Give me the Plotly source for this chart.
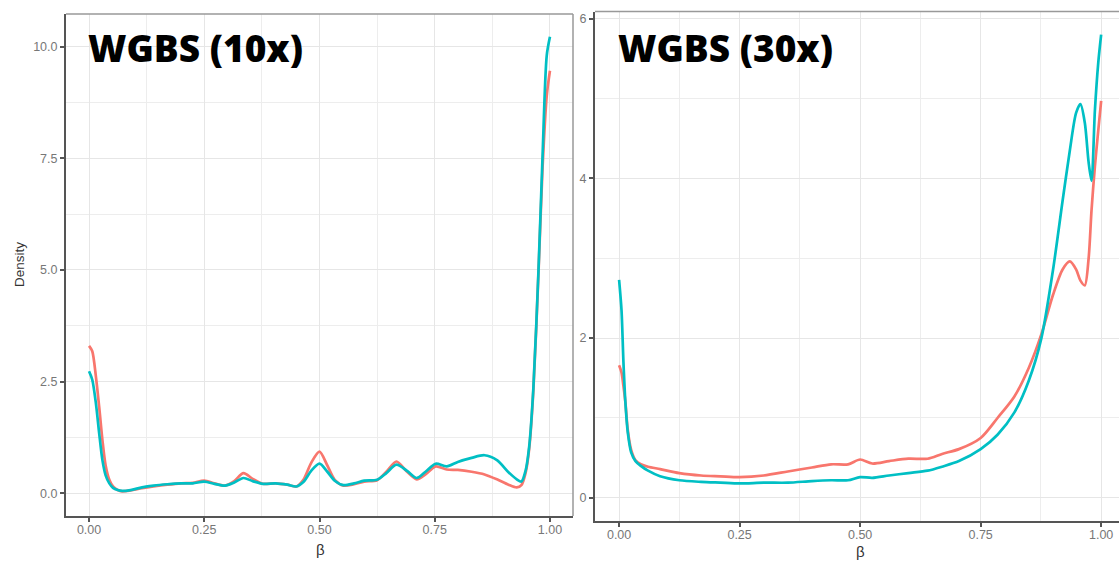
import plotly.graph_objects as go

# ---------------- data ----------------
beta_left = [0, 0.007, 0.015, 0.022, 0.029, 0.036, 0.044, 0.052, 0.062, 0.072, 0.09, 0.115,
             0.14, 0.17, 0.2, 0.225, 0.25, 0.272, 0.295, 0.315, 0.335, 0.355, 0.377, 0.405,
             0.43, 0.45, 0.465, 0.482, 0.5, 0.517, 0.533, 0.552, 0.575, 0.597, 0.625, 0.645,
             0.667, 0.69, 0.711, 0.73, 0.752, 0.776, 0.8, 0.83, 0.858, 0.885, 0.91, 0.928,
             0.938, 0.947, 0.955, 0.964, 0.975, 0.984, 0.993, 1.0]
red_left = [3.30, 3.18, 2.60, 1.93, 1.19, 0.62, 0.30, 0.15, 0.07, 0.04, 0.06, 0.11,
            0.15, 0.19, 0.22, 0.23, 0.28, 0.22, 0.17, 0.27, 0.45, 0.32, 0.21, 0.22,
            0.19, 0.15, 0.30, 0.68, 0.93, 0.62, 0.30, 0.17, 0.20, 0.26, 0.29, 0.48,
            0.71, 0.48, 0.31, 0.42, 0.60, 0.53, 0.52, 0.48, 0.42, 0.31, 0.19, 0.13,
            0.18, 0.45, 1.00, 2.30, 4.90, 7.30, 8.90, 9.46]
cyan_left = [2.73, 2.54, 2.00, 1.34, 0.74, 0.40, 0.22, 0.12, 0.07, 0.05, 0.07, 0.13,
             0.17, 0.20, 0.22, 0.22, 0.26, 0.21, 0.17, 0.24, 0.34, 0.27, 0.21, 0.22,
             0.19, 0.15, 0.25, 0.50, 0.66, 0.48, 0.28, 0.18, 0.22, 0.28, 0.30, 0.45,
             0.64, 0.50, 0.34, 0.48, 0.66, 0.60, 0.70, 0.79, 0.85, 0.74, 0.47, 0.31,
             0.26, 0.50, 1.05, 2.35, 4.96, 7.56, 9.80, 10.22]

beta_right = [0, 0.005, 0.009, 0.013, 0.018, 0.025, 0.034, 0.045, 0.06, 0.085, 0.125, 0.17,
              0.21, 0.25, 0.3, 0.35, 0.4, 0.44, 0.475, 0.5, 0.525, 0.56, 0.6, 0.64, 0.67,
              0.705, 0.75, 0.785, 0.82, 0.85, 0.876, 0.9, 0.92, 0.935, 0.948, 0.957, 0.966,
              0.974, 0.98, 0.987, 0.994, 1.0]
red_right = [1.66, 1.57, 1.40, 1.20, 0.85, 0.60, 0.47, 0.42, 0.39, 0.36, 0.31, 0.28,
             0.27, 0.26, 0.28, 0.33, 0.38, 0.42, 0.42, 0.48, 0.43, 0.46, 0.49, 0.49, 0.55,
             0.61, 0.75, 1.00, 1.27, 1.63, 2.05, 2.54, 2.86, 2.96, 2.86, 2.72, 2.66,
             3.00, 3.60, 4.15, 4.60, 4.97]
cyan_right = [2.73, 2.35, 1.70, 1.20, 0.82, 0.57, 0.46, 0.40, 0.34, 0.27, 0.22, 0.20,
              0.19, 0.18, 0.19, 0.19, 0.21, 0.22, 0.22, 0.26, 0.25, 0.28, 0.31, 0.34, 0.39,
              0.46, 0.61, 0.79, 1.07, 1.47, 2.00, 2.85, 3.72, 4.35, 4.82, 4.93, 4.70,
              4.20, 3.97, 4.85, 5.45, 5.80]

x_ticks = [0, 0.25, 0.5, 0.75, 1.0]
x_ticklabels = ["0.00", "0.25", "0.50", "0.75", "1.00"]
y_ticks_left = [0, 2.5, 5, 7.5, 10]
y_ticklabels_left = ["0.0", "2.5", "5.0", "7.5", "10.0"]
y_ticks_right = [0, 2, 4, 6]
y_ticklabels_right = ["0", "2", "4", "6"]
titles = ["WGBS (10x)", "WGBS (30x)"]

RED = "#F8766D"
CYAN = "#00BFC4"
W, H = 1119, 564

fig = go.Figure()
line_kw = dict(shape="spline", smoothing=0.8, width=2.7)
fig.add_trace(go.Scatter(x=beta_left, y=red_left, mode="lines", line=dict(color=RED, **line_kw),
                         xaxis="x", yaxis="y", showlegend=False))
fig.add_trace(go.Scatter(x=beta_left, y=cyan_left, mode="lines", line=dict(color=CYAN, **line_kw),
                         xaxis="x", yaxis="y", showlegend=False))
fig.add_trace(go.Scatter(x=beta_right, y=red_right, mode="lines", line=dict(color=RED, **line_kw),
                         xaxis="x2", yaxis="y2", showlegend=False))
fig.add_trace(go.Scatter(x=beta_right, y=cyan_right, mode="lines", line=dict(color=CYAN, **line_kw),
                         xaxis="x2", yaxis="y2", showlegend=False))

tickfont = dict(family="Liberation Sans, Arial, sans-serif", size=12.5, color="#777777")
axis_common = dict(showline=True, linecolor="#555555", linewidth=2, ticks="outside", ticklen=4,
                   tickwidth=1.5, tickcolor="#555555", showgrid=True, gridcolor="#E6E6E6",
                   gridwidth=1.3, zeroline=False, tickfont=tickfont)
minor_grid = dict(showgrid=True, gridcolor="#EDEDED", gridwidth=1.1, ticks="")

def px_x(p):
    return p / W

def px_y(p):
    return (H - p) / H

fig.update_layout(
    width=W, height=H, margin=dict(l=0, r=0, t=0, b=0),
    paper_bgcolor="white", plot_bgcolor="white",
    xaxis=dict(domain=[px_x(66), px_x(573)], range=[-0.05, 1.05], anchor="y",
               tickvals=x_ticks, ticktext=x_ticklabels, ticklabelstandoff=-3,
               minor=dict(dtick=0.125, tick0=0, **minor_grid), **axis_common),
    yaxis=dict(domain=[px_y(516), px_y(14)], range=[-0.511, 10.731], anchor="x",
               tickvals=y_ticks_left, ticktext=y_ticklabels_left,
               minor=dict(dtick=1.25, tick0=0, **minor_grid), **axis_common),
    xaxis2=dict(domain=[px_x(595), 1.0], range=[-0.05, 1.037], anchor="y2",
                tickvals=x_ticks, ticktext=x_ticklabels, ticklabelstandoff=-3,
                minor=dict(dtick=0.125, tick0=0, **minor_grid), **axis_common),
    yaxis2=dict(domain=[px_y(521), px_y(11.5)], range=[-0.29, 6.09], anchor="x2",
                tickvals=y_ticks_right, ticktext=y_ticklabels_right,
                minor=dict(dtick=1, tick0=0, **minor_grid), **axis_common),
)

# top / right borders of the panels (lighter gray)
border = dict(color="#999999", width=1.5)
fig.add_shape(type="line", xref="x domain", yref="y domain", x0=0, x1=1, y0=1, y1=1, line=border)
fig.add_shape(type="line", xref="x domain", yref="y domain", x0=1, x1=1, y0=0, y1=1, line=border)
fig.add_shape(type="line", xref="x2 domain", yref="y2 domain", x0=0, x1=1, y0=1, y1=1, line=border)

title_font = dict(family="Open Sans, sans-serif", size=37, color="black", weight=800)
fig.add_annotation(text=titles[0], xref="paper", yref="paper", x=px_x(86), y=px_y(47),
                   xanchor="left", yanchor="middle", showarrow=False, font=title_font)
fig.add_annotation(text=titles[1], xref="paper", yref="paper", x=px_x(616), y=px_y(47),
                   xanchor="left", yanchor="middle", showarrow=False, font=title_font)

axt_font = dict(family="Liberation Sans, Arial, sans-serif", size=13.5, color="#333333")
fig.add_annotation(text="Density", xref="paper", yref="paper", x=px_x(19), y=px_y(265),
                   xanchor="center", yanchor="middle", textangle=-90, showarrow=False, font=axt_font)
fig.add_annotation(text="β", xref="paper", yref="paper", x=px_x(320), y=px_y(549),
                   xanchor="center", yanchor="middle", showarrow=False, font=dict(axt_font, size=15))
fig.add_annotation(text="β", xref="paper", yref="paper", x=px_x(860), y=px_y(551),
                   xanchor="center", yanchor="middle", showarrow=False, font=dict(axt_font, size=15))

fig.write_html("out.html")
